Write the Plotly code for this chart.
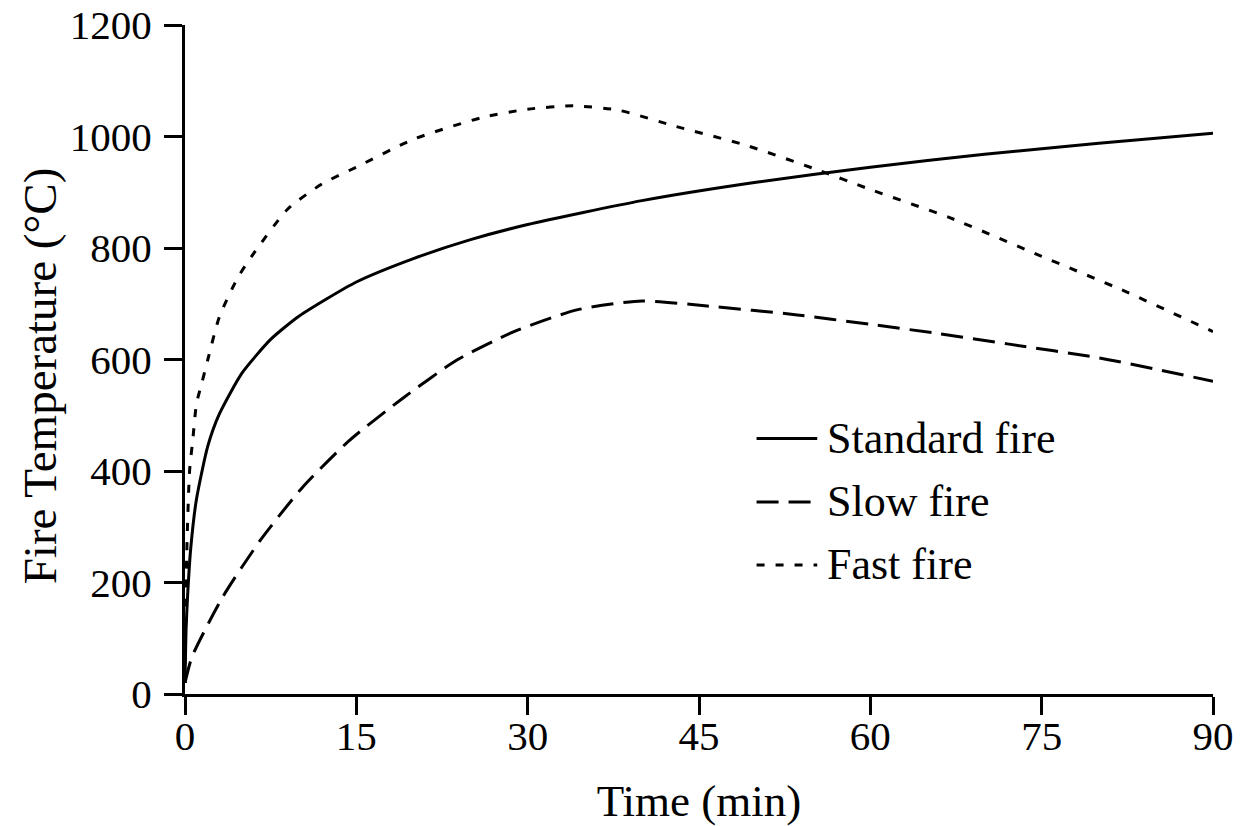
import plotly.graph_objects as go

# Time (min) and fire temperature (°C) for the three design fires
standard_time = [0, 0.1, 0.25, 0.5, 1, 2, 3, 5, 7.5, 10, 15, 20, 25, 30, 40, 50, 60, 70, 80, 90]
standard_temp = [20, 120, 185, 261, 349, 445, 502, 576, 636, 678, 739, 781, 815, 842, 885, 918, 945, 968, 988, 1006]

slow_time = [0, 0.6, 3.3, 6.6, 10.3, 14.4, 19.1, 23.8, 28.7, 34.3, 40, 45.7, 53.6, 60, 65.8, 72, 80, 90]
slow_temp = [20, 66, 174, 276, 371, 455, 531, 599, 649, 689, 705, 696, 680, 663, 647, 628, 603, 561]

fast_time = [0, 0.15, 0.4, 0.7, 1, 1.5, 2, 3, 4.6, 6, 9, 12, 15, 20, 26, 30, 34, 38, 43, 49, 55, 60, 67, 75, 82, 90]
fast_temp = [20, 250, 400, 460, 520, 560, 600, 676, 746, 790, 870, 915, 945, 995, 1034, 1049, 1055, 1047, 1018, 985, 943, 905, 854, 785, 725, 650]

x_ticks = [0, 15, 30, 45, 60, 75, 90]
y_ticks = [0, 200, 400, 600, 800, 1000, 1200]

series_names = ["Standard fire", "Slow fire", "Fast fire"]
series_dash = ["solid", "22px,10px", "8px,11px"]

FONT = "Liberation Serif"

fig = go.Figure()
for t, v, name, dash in zip(
    [standard_time, slow_time, fast_time],
    [standard_temp, slow_temp, fast_temp],
    series_names,
    series_dash,
):
    fig.add_trace(
        go.Scatter(
            x=t, y=v, mode="lines", name=name,
            line=dict(color="black", width=3, dash=dash, shape="spline", smoothing=0.6),
            showlegend=False,
        )
    )

# Hand-placed legend inside the plot area
legend_y = [0.382, 0.287, 0.193]
for name, dash, ly in zip(series_names, series_dash, legend_y):
    fig.add_shape(
        type="line", xref="paper", yref="paper",
        x0=0.556, x1=0.615, y0=ly, y1=ly,
        line=dict(color="black", width=3, dash=dash),
    )
    fig.add_annotation(
        xref="paper", yref="paper", x=0.623, y=ly, text=name,
        showarrow=False, xanchor="left", yanchor="middle",
        font=dict(family=FONT, size=44, color="black"),
    )

# Vertical axis title, set slightly below the plot's mid-height
fig.add_annotation(
    xref="paper", yref="paper", x=-0.141, y=0.475,
    text="Fire Temperature (°C)", textangle=-90, showarrow=False,
    xanchor="center", yanchor="middle",
    font=dict(family=FONT, size=47, color="black"),
)

axis_common = dict(
    showgrid=False, zeroline=False, automargin=False,
    showline=True, linecolor="black", linewidth=3,
    ticks="outside", ticklen=18, tickwidth=3, tickcolor="black",
    tickfont=dict(family=FONT, size=41, color="black"),
)

fig.update_xaxes(
    range=[0, 90], tickvals=x_ticks, ticktext=[str(v) for v in x_ticks],
    ticklabelstandoff=-14,
    title=dict(text="Time (min)", font=dict(family=FONT, size=45, color="black"), standoff=36),
    **axis_common,
)
fig.update_yaxes(
    range=[0, 1200], tickvals=y_ticks, ticktext=[str(v) for v in y_ticks],
    ticklabelstandoff=4,
    **axis_common,
)

fig.update_layout(
    width=1246, height=826,
    margin=dict(l=185, r=33, t=25, b=132),
    plot_bgcolor="white", paper_bgcolor="white",
)

fig.write_html("out.html")
